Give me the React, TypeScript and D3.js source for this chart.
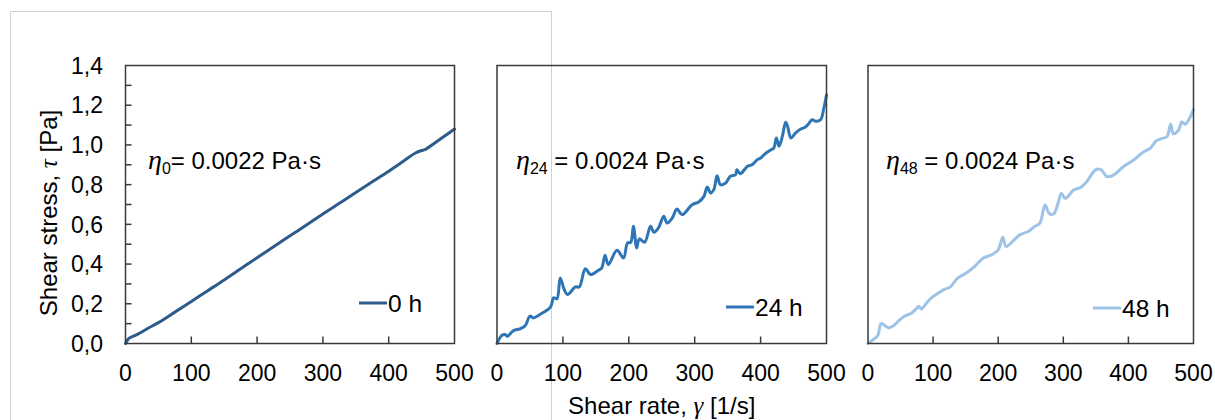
import React from "react";
import * as d3 from "d3";

// Shear rate [1/s] vs shear stress [Pa] for each storage time
const series0h: [number, number][] = [
  [0, 0], [5, 0.026], [12, 0.037], [20, 0.05], [35, 0.078], [50, 0.105], [75, 0.158],
  [100, 0.212], [125, 0.266], [150, 0.32], [175, 0.376], [200, 0.432], [225, 0.487],
  [250, 0.542], [275, 0.597], [300, 0.652], [325, 0.706], [350, 0.76], [375, 0.814],
  [400, 0.868], [420, 0.913], [440, 0.958], [450, 0.972], [455, 0.976], [470, 1.01],
  [485, 1.045], [500, 1.08],
];

const series24h: [number, number][] = [
  [0, 0], [7, 0.04], [12, 0.045], [16, 0.037], [25, 0.065], [35, 0.074], [43, 0.091],
  [50, 0.138], [55, 0.129], [65, 0.146], [81, 0.183], [86, 0.23], [91, 0.225],
  [96, 0.33], [102, 0.272], [107, 0.247], [119, 0.285], [125, 0.285], [134, 0.376],
  [142, 0.347], [154, 0.369], [159, 0.381], [164, 0.444], [169, 0.397], [182, 0.47],
  [192, 0.431], [198, 0.506], [203, 0.51], [207, 0.59], [212, 0.481], [216, 0.527],
  [224, 0.51], [233, 0.59], [238, 0.56], [245, 0.582], [253, 0.641], [258, 0.607],
  [266, 0.632], [273, 0.677], [281, 0.649], [296, 0.699], [306, 0.713], [314, 0.741],
  [319, 0.788], [324, 0.758], [329, 0.775], [334, 0.845], [339, 0.8], [347, 0.808],
  [354, 0.842], [362, 0.85], [364, 0.875], [369, 0.855], [380, 0.892], [387, 0.9],
  [395, 0.926], [400, 0.934], [408, 0.959], [416, 0.976], [420, 0.984], [424, 1.035],
  [428, 0.993], [433, 1.043], [438, 1.114], [441, 1.093], [446, 1.035], [453, 1.06],
  [461, 1.08], [468, 1.09], [473, 1.107], [478, 1.127], [484, 1.119], [491, 1.127],
  [496, 1.186], [500, 1.253],
];

const series48h: [number, number][] = [
  [0, 0], [8, 0.02], [15, 0.04], [20, 0.1], [26, 0.09], [32, 0.079], [38, 0.087],
  [49, 0.12], [56, 0.137], [67, 0.154], [74, 0.174], [78, 0.187], [82, 0.174],
  [90, 0.204], [97, 0.229], [108, 0.254], [118, 0.274], [126, 0.284], [138, 0.33],
  [151, 0.355], [164, 0.388], [177, 0.43], [190, 0.447], [200, 0.472], [207, 0.535],
  [212, 0.489], [223, 0.517], [233, 0.547], [246, 0.564], [256, 0.589], [264, 0.606],
  [272, 0.698], [278, 0.656], [285, 0.652], [292, 0.706], [297, 0.756], [303, 0.731],
  [316, 0.773], [326, 0.785], [336, 0.815], [349, 0.873], [357, 0.877], [362, 0.86],
  [367, 0.84], [377, 0.848], [392, 0.89], [408, 0.924], [423, 0.965], [433, 0.982],
  [443, 1.021], [451, 1.032], [459, 1.041], [465, 1.104], [469, 1.057], [477, 1.074],
  [482, 1.116], [487, 1.104], [495, 1.141], [500, 1.178],
];

const xTicks = [0, 100, 200, 300, 400, 500];
const yTicks = [0, 0.2, 0.4, 0.6, 0.8, 1.0, 1.2, 1.4];
const yMinorTicks = [0.1, 0.2, 0.3, 0.4, 0.5, 0.6, 0.7, 0.8, 0.9, 1.0, 1.1, 1.2, 1.3];
const seriesNames = ["0 h", "24 h", "48 h"];
const etaSubscripts = ["0", "24", "48"];
const etaValues = ["= 0.0022 Pa·s", " = 0.0024 Pa·s", " = 0.0024 Pa·s"];
const seriesColors = ["#2E5C8A", "#2E75B6", "#9DC3E6"];

const W = 1215;
const H = 420;
const TOP = 65.5;
const BOTTOM = 343.5;
const SANS = "'Liberation Sans', Arial, sans-serif";
const SERIF = "'Liberation Serif', 'Times New Roman', serif";

const panelLayout = [
  { left: 125.5, right: 454.5, annX: 148, legX: 359, legY: 303 },
  { left: 497, right: 826.5, annX: 516, legX: 726, legY: 307 },
  { left: 868, right: 1193.5, annX: 886, legX: 1093, legY: 308 },
];
const allSeries = [series0h, series24h, series48h];

const fmt = (v: number) => d3.format(".1f")(v).replace(".", ",");

export default function App() {
  const y = d3.scaleLinear().domain([0, 1.4]).range([BOTTOM, TOP]);

  return (
    <svg
      width={W}
      height={H}
      style={{ position: "absolute", left: 0, top: 0, background: "#fff" }}
      fontFamily={SANS}
    >
      <rect x={0} y={0} width={W} height={H} fill="#fff" />
      {/* outer frame of the first figure block */}
      <rect x={10.5} y={11.5} width={541} height={440} fill="none" stroke="#d0d0d0" strokeWidth={1} />

      {panelLayout.map((p, i) => {
        const x = d3.scaleLinear().domain([0, 500]).range([p.left, p.right]);
        const line = d3
          .line<[number, number]>()
          .x((d) => x(d[0]))
          .y((d) => y(d[1]))
          .curve(d3.curveCatmullRom.alpha(0.5));
        return (
          <g key={i}>
            <path
              d={line(allSeries[i]) || ""}
              fill="none"
              stroke={seriesColors[i]}
              strokeWidth={3}
              strokeLinejoin="round"
              strokeLinecap="round"
            />
            <rect
              x={p.left}
              y={TOP}
              width={p.right - p.left}
              height={BOTTOM - TOP}
              fill="none"
              stroke="#3a3a3a"
              strokeWidth={1.5}
            />
            {xTicks.slice(1, -1).map((t) => (
              <line key={t} x1={x(t)} x2={x(t)} y1={BOTTOM} y2={BOTTOM - 7} stroke="#3a3a3a" strokeWidth={1.5} />
            ))}
            {xTicks.map((t) => (
              <text key={"l" + t} x={x(t)} y={381} fontSize={23} textAnchor="middle" fill="#000">
                {t}
              </text>
            ))}
            {i === 0 &&
              yMinorTicks.map((t) => (
                <line key={"m" + t} x1={p.left} x2={p.left + 6} y1={y(t)} y2={y(t)} stroke="#3a3a3a" strokeWidth={1.5} />
              ))}
            {i === 0 &&
              yTicks.map((t) => (
                <text key={"y" + t} x={103} y={y(t) + 8.2} fontSize={23} textAnchor="end" fill="#000">
                  {fmt(t)}
                </text>
              ))}
            {/* viscosity annotation */}
            <text x={p.annX} y={169} fill="#000" fontSize={24}>
              <tspan fontFamily={SERIF} fontStyle="italic" fontSize={28}>
                η
              </tspan>
              <tspan fontSize={16} dy={5}>
                {etaSubscripts[i]}
              </tspan>
              <tspan dy={-5} style={{ whiteSpace: "pre" }}>
                {etaValues[i]}
              </tspan>
            </text>
            {/* legend */}
            <line x1={p.legX} x2={p.legX + 28} y1={p.legY} y2={p.legY} stroke={seriesColors[i]} strokeWidth={3} />
            <text x={p.legX + 29} y={p.legY + 8.8} fontSize={24.5} fill="#000">
              {seriesNames[i]}
            </text>
          </g>
        );
      })}

      <text x={661.75} y={414} fontSize={24} textAnchor="middle" fill="#000">
        Shear rate,{" "}
        <tspan fontFamily={SERIF} fontStyle="italic" fontSize={25}>
          γ
        </tspan>{" "}
        [1/s]
      </text>
      <text
        transform={`translate(57,213) rotate(-90)`}
        fontSize={24}
        textAnchor="middle"
        fill="#000"
      >
        Shear stress,{" "}
        <tspan fontFamily={SERIF} fontStyle="italic" fontSize={25}>
          τ
        </tspan>{" "}
        [Pa]
      </text>
    </svg>
  );
}
